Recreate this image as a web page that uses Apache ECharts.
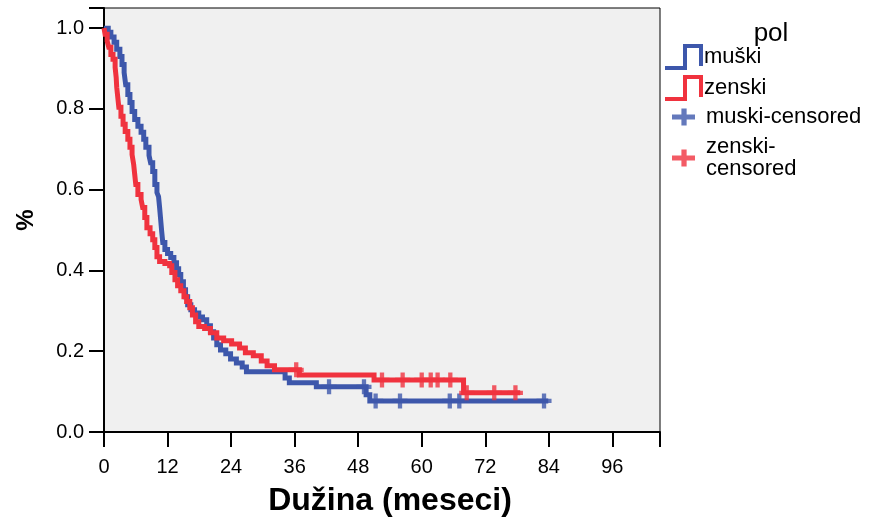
<!DOCTYPE html>
<html>
<head>
<meta charset="utf-8">
<script src="https://cdn.jsdelivr.net/npm/echarts@6/dist/echarts.min.js"></script>
<style>
html,body{margin:0;padding:0;background:#fff;}
#chart{width:872px;height:517px;}
</style>
</head>
<body>
<div id="chart"></div>
<script>
// Kaplan-Meier estimates (time in months, survival proportion)
const maleTimes = [0,0.8,1.3,1.9,2.4,3.0,3.4,3.8,4.1,4.5,4.9,5.3,5.8,6.4,7.0,7.5,7.9,8.5,8.8,9.2,9.6,10.0,10.3,10.5,10.7,10.9,11.1,11.5,12.0,12.6,13.2,13.7,14.1,14.5,15.0,15.4,15.8,16.4,17.1,17.9,18.6,19.4,20.1,20.7,21.3,22.0,23.0,23.9,25.0,26.1,26.9,34.2,35.0,40.1,49.5,50.2,83.9];
const maleSurv = [1.0,0.99,0.978,0.965,0.948,0.93,0.91,0.89,0.86,0.836,0.816,0.794,0.774,0.757,0.742,0.725,0.705,0.685,0.667,0.645,0.613,0.593,0.583,0.556,0.526,0.496,0.469,0.452,0.442,0.432,0.419,0.404,0.39,0.372,0.352,0.335,0.315,0.303,0.295,0.285,0.278,0.263,0.248,0.233,0.216,0.203,0.194,0.181,0.171,0.161,0.149,0.134,0.122,0.112,0.092,0.077,0.077];
const femaleTimes = [0,0.2,0.6,0.9,1.3,1.7,2.1,2.3,2.4,2.6,2.8,3.2,3.6,4.0,4.5,4.9,5.3,5.6,5.8,6.0,6.4,7.0,7.3,7.7,8.1,8.7,9.2,9.6,10.0,10.5,11.5,12.4,12.8,13.4,13.9,14.5,15.1,15.6,16.2,16.7,17.3,17.9,19.0,20.1,21.3,22.6,24.1,25.6,26.7,28.2,29.7,30.8,32.2,36.9,51.0,67.9,78.6];
const femaleSurv = [1.0,0.985,0.968,0.953,0.935,0.923,0.903,0.878,0.854,0.829,0.804,0.782,0.762,0.744,0.725,0.705,0.687,0.663,0.638,0.613,0.588,0.576,0.556,0.531,0.506,0.491,0.476,0.457,0.434,0.422,0.417,0.412,0.395,0.377,0.362,0.35,0.335,0.323,0.308,0.29,0.273,0.261,0.256,0.246,0.233,0.226,0.218,0.208,0.196,0.189,0.176,0.164,0.154,0.141,0.129,0.097,0.097];
const maleCensTimes = [42.5,49.1,51.3,55.9,65.3,67.1,83.1];
const maleCensSurv = [0.112,0.112,0.077,0.077,0.077,0.077,0.077];
const femaleCensTimes = [36.3,52.5,56.4,60.0,61.7,63.0,65.4,68.5,73.7,77.7];
const femaleCensSurv = [0.154,0.129,0.129,0.129,0.129,0.129,0.129,0.097,0.097,0.097];
const xTicks = [0,12,24,36,48,60,72,84,96];
const yTicks = [0.0,0.2,0.4,0.6,0.8,1.0];
const seriesNames = ['muški','zenski','muski-censored','zenski-censored'];
const legendTitle = 'pol';
const xTitle = 'Dužina (meseci)';
const yTitle = '%';

const BLUE = '#3d57ab';
const RED = '#f0323e';
const FONT = '"Liberation Sans", Arial, sans-serif';
const stepIcon = 'path://M0,22H18V0H38V22H34V4H22V26H0Z';
const plusPath = 'path://M5,0H9V5H14V9H9V14H5V9H0V5H5Z';
const plusWide = 'path://M9,0H14V6H22V11H14V17H9V11H0V6H9Z';

const zip = (a, b) => a.map((v, i) => [v, b[i]]);

const chart = echarts.init(document.getElementById('chart'), null, {renderer: 'canvas'});
chart.setOption({
  animation: false,
  backgroundColor: '#ffffff',
  textStyle: {fontFamily: FONT},
  title: {
    text: legendTitle, left: 766, top: 16, textAlign: 'center',
    textStyle: {fontFamily: FONT, fontSize: 26, fontWeight: 'normal', color: '#000'}
  },
  grid: {
    left: 104, right: 212, top: 8, bottom: 85,
    containLabel: false, outerBoundsMode: 'none',
    show: true, backgroundColor: '#f0f0f0', borderColor: '#000', borderWidth: 1
  },
  legend: [
    {
      data: [{name: seriesNames[0], icon: stepIcon}, {name: seriesNames[1], icon: stepIcon}],
      orient: 'vertical', left: 660, top: 39, itemWidth: 38, itemHeight: 26, itemGap: 5,
      selectedMode: false,
      textStyle: {fontFamily: FONT, fontSize: 22, color: '#000', padding: [0, 0, 0, -4]}
    },
    {
      data: [{name: seriesNames[2], icon: plusWide}, {name: seriesNames[3], icon: plusWide}],
      orient: 'vertical', left: 667, top: 101, itemWidth: 23, itemHeight: 17, itemGap: 8,
      symbolKeepAspect: false,
      selectedMode: false,
      formatter: n => n === 'zenski-censored' ? 'zenski-\ncensored' : n,
      textStyle: {fontFamily: FONT, fontSize: 22, color: '#000', lineHeight: 22, padding: [0, 0, 0, 6]}
    }
  ],
  xAxis: {
    type: 'value', min: 0, max: 105, interval: 12,
    name: xTitle, nameLocation: 'middle', nameGap: 53,
    nameTextStyle: {fontFamily: FONT, fontSize: 32, fontWeight: 'bold', color: '#000', padding: [0, 0, 0, 16]},
    axisLine: {onZero: false, lineStyle: {color: '#000', width: 2}},
    axisTick: {length: 15, lineStyle: {color: '#000', width: 2}},
    axisLabel: {
      fontFamily: FONT, fontSize: 20, color: '#000', margin: 25,
      formatter: v => xTicks.indexOf(v) >= 0 ? String(v) : ''
    },
    splitLine: {show: false}
  },
  yAxis: {
    type: 'value', min: 0, max: 1.05, interval: 0.2,
    name: yTitle, nameLocation: 'middle', nameGap: 66, nameRotate: 90,
    nameTextStyle: {fontFamily: FONT, fontSize: 24, fontWeight: 'bold', color: '#000'},
    axisLine: {onZero: false, lineStyle: {color: '#000', width: 2}},
    axisTick: {length: 15, lineStyle: {color: '#000', width: 2}},
    axisLabel: {
      fontFamily: FONT, fontSize: 20, color: '#000', margin: 20,
      formatter: v => yTicks.some(t => Math.abs(t - v) < 1e-6) ? v.toFixed(1) : ''
    },
    splitLine: {show: false}
  },
  series: [
    {
      name: seriesNames[0], type: 'line', step: 'end', showSymbol: false, symbol: 'none',
      data: zip(maleTimes, maleSurv), color: BLUE,
      lineStyle: {color: BLUE, width: 5, join: 'miter'}, z: 2
    },
    {
      name: seriesNames[1], type: 'line', step: 'end', showSymbol: false, symbol: 'none',
      data: zip(femaleTimes, femaleSurv), color: RED,
      lineStyle: {color: RED, width: 5, join: 'miter'}, z: 3
    },
    {
      name: seriesNames[2], type: 'scatter', symbol: plusPath, symbolSize: 15,
      data: zip(maleCensTimes, maleCensSurv), itemStyle: {color: BLUE}, z: 4
    },
    {
      name: seriesNames[3], type: 'scatter', symbol: plusPath, symbolSize: 15,
      data: zip(femaleCensTimes, femaleCensSurv), itemStyle: {color: RED}, z: 5
    }
  ]
});
</script>
</body>
</html>
